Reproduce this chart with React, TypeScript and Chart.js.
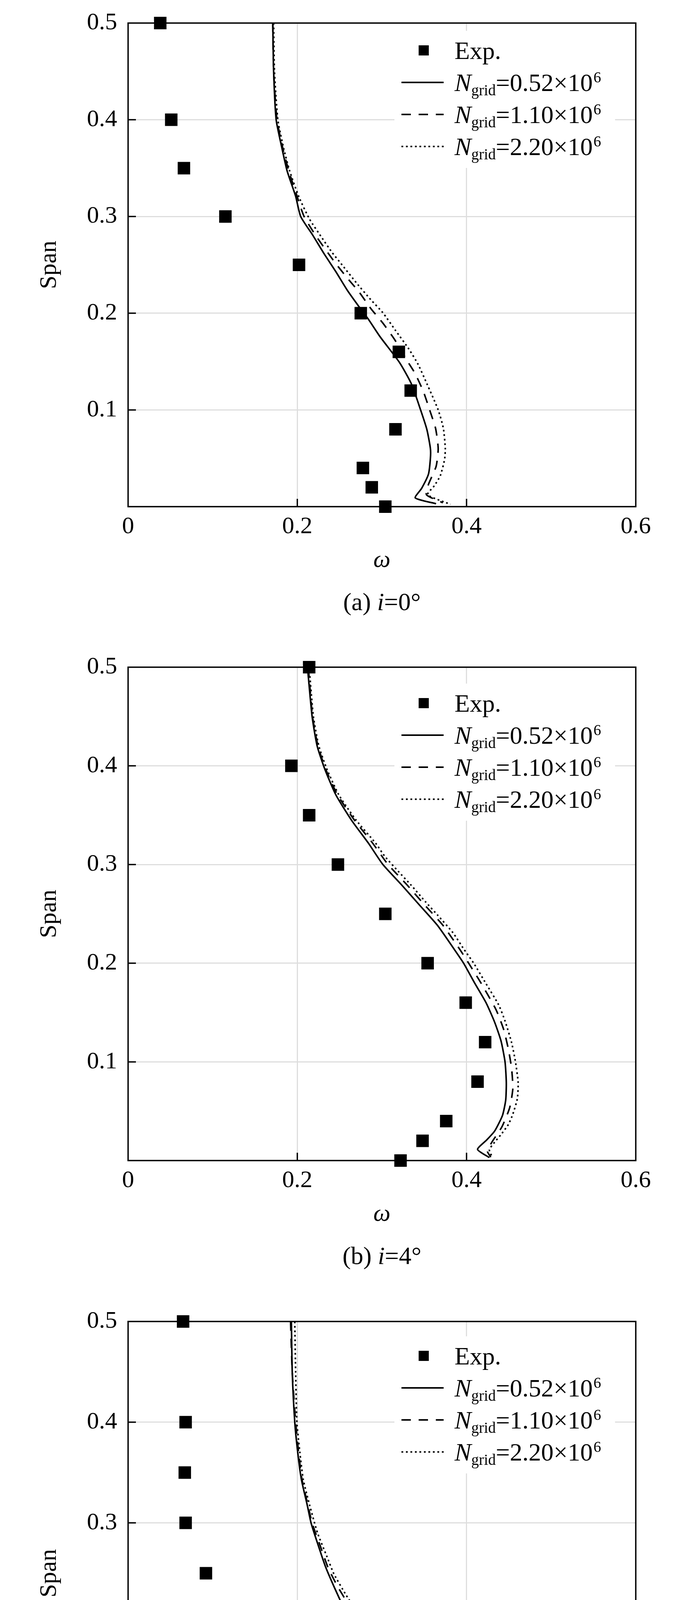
import { useEffect, useRef } from 'react'
import { Chart, registerables } from 'chart.js'

Chart.register(...registerables)

const SERIF = '"Liberation Serif", "Times New Roman", Times, serif'

// span positions of the measured points (same for all three incidences)
const expSpan = [0.5, 0.4, 0.35, 0.3, 0.25, 0.2, 0.16, 0.12, 0.08, 0.04, 0.02, 0]

const expOmegaA = [0.038, 0.051, 0.066, 0.115, 0.202, 0.275, 0.32, 0.334, 0.316, 0.2775, 0.288, 0.304]
const expOmegaB = [0.214, 0.193, 0.214, 0.248, 0.304, 0.354, 0.399, 0.422, 0.413, 0.376, 0.348, 0.322]
const expOmegaC = [0.065, 0.068, 0.067, 0.068, 0.092, 0.165, 0.234, 0.274, 0.292, 0.272, 0.302, 0.306]

// computed profiles, [omega, span]
const coarseA = [[0.171, 0.5], [0.172, 0.45], [0.175, 0.4], [0.182, 0.37], [0.188, 0.347], [0.198, 0.321], [0.204, 0.3], [0.218, 0.281], [0.2317, 0.2614], [0.2455, 0.243], [0.2594, 0.2233], [0.2746, 0.2047], [0.2838, 0.194], [0.2977, 0.1758], [0.3208, 0.149], [0.3348, 0.127], [0.3457, 0.1], [0.3532, 0.0795], [0.3573, 0.06], [0.3573, 0.05], [0.355, 0.0336], [0.347, 0.019], [0.3394, 0.009], [0.364, 0.003]]
const mediumA = [[0.171, 0.5], [0.172, 0.45], [0.176, 0.4], [0.183, 0.37], [0.19, 0.347], [0.2, 0.32], [0.208, 0.3], [0.222, 0.28], [0.2423, 0.255], [0.258, 0.2375], [0.2732, 0.2217], [0.287, 0.2047], [0.3009, 0.19], [0.3148, 0.173], [0.329, 0.152], [0.339, 0.138], [0.349, 0.119], [0.3564, 0.1], [0.3634, 0.081], [0.3665, 0.06], [0.364, 0.0415], [0.355, 0.023], [0.3526, 0.0123], [0.372, 0.004]]
const fineA = [[0.172, 0.5], [0.173, 0.45], [0.177, 0.4], [0.184, 0.37], [0.191, 0.347], [0.202, 0.32], [0.2146, 0.297], [0.2285, 0.2787], [0.241, 0.2629], [0.2534, 0.2494], [0.27, 0.2312], [0.287, 0.2138], [0.3009, 0.2007], [0.3162, 0.182], [0.3318, 0.163], [0.3425, 0.1475], [0.3532, 0.127], [0.3665, 0.1], [0.3726, 0.081], [0.3749, 0.06], [0.374, 0.0486], [0.369, 0.032], [0.362, 0.0217], [0.354, 0.0123], [0.381, 0.0024]]

const coarseB = [[0.212, 0.5], [0.2175, 0.45], [0.2235, 0.42], [0.2325, 0.3967], [0.2455, 0.3707], [0.264, 0.345], [0.284, 0.3217], [0.3009, 0.3003], [0.3226, 0.28], [0.3438, 0.2595], [0.3655, 0.2385], [0.3855, 0.214], [0.3965, 0.2], [0.4095, 0.18], [0.4232, 0.1597], [0.4333, 0.14], [0.4408, 0.121], [0.4455, 0.1], [0.447, 0.079], [0.4463, 0.0614], [0.4425, 0.0458], [0.4333, 0.03], [0.424, 0.021], [0.413, 0.0113], [0.427, 0.003]]
const mediumB = [[0.213, 0.5], [0.218, 0.45], [0.2245, 0.42], [0.2335, 0.3967], [0.2475, 0.3707], [0.2675, 0.345], [0.289, 0.3217], [0.307, 0.3003], [0.329, 0.28], [0.35, 0.2595], [0.372, 0.2385], [0.392, 0.214], [0.4025, 0.2], [0.417, 0.18], [0.4348, 0.153], [0.444, 0.1325], [0.4494, 0.113], [0.4532, 0.0936], [0.4547, 0.073], [0.451, 0.0536], [0.4417, 0.034], [0.43, 0.0187], [0.4247, 0.0093], [0.4287, 0.0035]]
const fineB = [[0.214, 0.5], [0.219, 0.45], [0.2255, 0.42], [0.235, 0.3967], [0.249, 0.3707], [0.2695, 0.345], [0.2925, 0.3217], [0.3032, 0.3085], [0.3194, 0.293], [0.3346, 0.279], [0.3517, 0.262], [0.3655, 0.249], [0.384, 0.2308], [0.397, 0.214], [0.4085, 0.2], [0.4225, 0.18], [0.438, 0.1577], [0.4455, 0.1414], [0.4532, 0.1197], [0.4578, 0.1002], [0.461, 0.079], [0.46, 0.0626], [0.4547, 0.047], [0.4494, 0.0365], [0.4408, 0.0264], [0.4333, 0.0187], [0.427, 0.011], [0.43, 0.004]]

const coarseC = [[0.193, 0.5], [0.194, 0.45], [0.197, 0.4], [0.2005, 0.37], [0.2048, 0.3432], [0.2117, 0.3178], [0.2163, 0.2998], [0.2239, 0.2798], [0.2331, 0.257], [0.244, 0.2355], [0.2565, 0.2127], [0.264, 0.1999], [0.2793, 0.1784], [0.2963, 0.153], [0.309, 0.1375], [0.3195, 0.118], [0.33, 0.0995], [0.338, 0.083], [0.3435, 0.065], [0.3455, 0.049], [0.3455, 0.03], [0.3435, 0.022], [0.341, 0.009], [0.3625, 0.006], [0.385, 0.0023]]
const mediumC = [[0.192, 0.5], [0.194, 0.45], [0.198, 0.4], [0.2015, 0.37], [0.2055, 0.3432], [0.2125, 0.3178], [0.2175, 0.2998], [0.226, 0.2798], [0.2363, 0.2557], [0.247, 0.2378], [0.2594, 0.2203], [0.2732, 0.1998], [0.287, 0.1846], [0.3009, 0.1644], [0.311, 0.15], [0.3263, 0.127], [0.337, 0.107], [0.346, 0.087], [0.353, 0.066], [0.356, 0.043], [0.351, 0.024], [0.3495, 0.011], [0.3625, 0.0053], [0.378, 0.0027]]
const fineC = [[0.197, 0.5], [0.198, 0.45], [0.1995, 0.4], [0.203, 0.37], [0.207, 0.3432], [0.2145, 0.3178], [0.2239, 0.29], [0.2348, 0.267], [0.2432, 0.2494], [0.2579, 0.228], [0.27, 0.2127], [0.2815, 0.1986], [0.2948, 0.1822], [0.3101, 0.163], [0.3157, 0.1558], [0.3272, 0.14], [0.34, 0.1184], [0.3494, 0.1005], [0.3563, 0.083], [0.3618, 0.0651], [0.3632, 0.0472], [0.3609, 0.0347], [0.3572, 0.022], [0.354, 0.0164], [0.3688, 0.005], [0.3854, 0.0023]]

const gridSizes = ['0.52', '1.10', '2.20']
const lineDashes = [[], [24, 20], [4.5, 7]]

const PLOT_TOP = 34
const AXIS_LEFT = 328
const PAD_RIGHT = 144
const BELOW = 182
const ROW_GAP = 82

// draws the box, inward ticks and the legend (with sub/superscripts)
const framePlugin = {
  id: 'frame',
  beforeDatasetsDraw(chart: any, _args: any, opts: any) {
    const { ctx, chartArea: ca } = chart
    const xs = chart.scales.x
    const ys = chart.scales.y
    const rowY = (i: number) => ca.top + opts.firstRow + i * ROW_GAP
    ctx.save()

    ctx.fillStyle = '#fff'
    ctx.fillRect(1010, rowY(0) - 50, 565, rowY(3) - rowY(0) + 105)

    ctx.strokeStyle = '#000'
    ctx.lineWidth = 3.5
    ctx.strokeRect(ca.left, ca.top, ca.right - ca.left, ca.bottom - ca.top)

    ctx.beginPath()
    xs.ticks.forEach((t: any) => {
      if (t.value <= xs.min || t.value >= xs.max) return
      const px = xs.getPixelForValue(t.value)
      ctx.moveTo(px, ca.bottom)
      ctx.lineTo(px, ca.bottom - 20)
    })
    ys.ticks.forEach((t: any) => {
      if (t.value <= ys.min || t.value >= ys.max) return
      const py = ys.getPixelForValue(t.value)
      ctx.moveTo(ca.left, py)
      ctx.lineTo(ca.left + 20, py)
    })
    ctx.stroke()

    ctx.fillStyle = '#000'
    ctx.textAlign = 'left'
    ctx.textBaseline = 'alphabetic'
    chart.data.datasets.forEach((d: any, i: number) => {
      const y = rowY(i)
      const base = y + 22
      let x = 1164
      if (i === 0) {
        ctx.fillRect(1085 - 13, y - 13, 26, 26)
        ctx.font = `64px ${SERIF}`
        ctx.fillText('Exp.', x, base)
        return
      }
      ctx.setLineDash(d.borderDash || [])
      ctx.lineWidth = d.borderWidth
      ctx.beginPath()
      ctx.moveTo(1028, y)
      ctx.lineTo(1136, y)
      ctx.stroke()
      ctx.setLineDash([])

      ctx.font = `italic 64px ${SERIF}`
      ctx.fillText('N', x, base)
      x += ctx.measureText('N').width
      ctx.font = `39px ${SERIF}`
      ctx.fillText('grid', x, base + 11)
      x += ctx.measureText('grid').width
      ctx.font = `64px ${SERIF}`
      const rest = `=${gridSizes[i - 1]}×10`
      ctx.fillText(rest, x, base)
      x += ctx.measureText(rest).width
      ctx.font = `39px ${SERIF}`
      ctx.fillText('6', x + 2, base - 22)
    })
    ctx.restore()
  },
}

type PanelProps = {
  top: number
  height: number
  exp: number[]
  lines: number[][][]
  tag: string
  angle: string
  firstRow: number
}

function Panel({ top, height, exp, lines, tag, angle, firstRow }: PanelProps) {
  const ref = useRef<HTMLCanvasElement>(null)
  const canvasH = PLOT_TOP + height + BELOW

  useEffect(() => {
    const tickFont = { family: SERIF, size: 62, lineHeight: 1 }
    const chart = new Chart(ref.current as HTMLCanvasElement, {
      type: 'scatter',
      data: {
        datasets: [
          {
            label: 'Exp.',
            data: exp.map((w, k) => ({ x: w, y: expSpan[k] })),
            showLine: false,
            pointStyle: 'rect',
            pointRadius: 22.6,
            backgroundColor: '#000',
            borderWidth: 0,
            clip: false,
          } as any,
          ...lines.map((pts, k) => ({
            label: `Ngrid=${gridSizes[k]}×10^6`,
            data: pts.map(([w, s]) => ({ x: w, y: s })),
            showLine: true,
            borderColor: '#000',
            borderWidth: 4,
            borderDash: lineDashes[k],
            pointRadius: 0,
            tension: 0.2,
            clip: false,
          })),
        ],
      },
      options: {
        responsive: false,
        animation: false,
        devicePixelRatio: 1,
        events: [],
        layout: { padding: { left: 0, top: PLOT_TOP, right: PAD_RIGHT, bottom: 0 } },
        plugins: {
          legend: { display: false },
          tooltip: { enabled: false },
          frame: { firstRow },
        } as any,
        scales: {
          x: {
            type: 'linear',
            min: 0,
            max: 0.6,
            ticks: {
              stepSize: 0.2,
              padding: 21,
              color: '#000',
              font: tickFont,
              callback: (v: any) => (Number(v) === 0 ? '0' : Number(v).toFixed(1)),
            },
            grid: { color: '#dedede', lineWidth: 3, drawTicks: false },
            border: { display: false },
            title: {
              display: true,
              text: 'ω',
              color: '#000',
              font: { family: SERIF, size: 62, style: 'italic' },
              padding: { top: 0, bottom: 7 },
            },
            afterFit: (s: any) => {
              s.height = BELOW
            },
          },
          y: {
            type: 'linear',
            min: 0,
            max: 0.5,
            ticks: {
              stepSize: 0.1,
              padding: 28,
              color: '#000',
              font: tickFont,
              callback: (v: any) => (Number(v) === 0 ? '' : Number(v).toFixed(1)),
            },
            grid: { color: '#dedede', lineWidth: 3, drawTicks: false },
            border: { display: false },
            title: {
              display: true,
              text: 'Span',
              color: '#000',
              font: { family: SERIF, size: 62 },
              padding: { top: 90, bottom: 0 },
            },
            afterFit: (s: any) => {
              s.width = AXIS_LEFT
            },
          },
        },
      },
      plugins: [framePlugin],
    })
    return () => chart.destroy()
  }, [])

  const captionCenter = top + PLOT_TOP + height + 244
  return (
    <>
      <canvas
        ref={ref}
        width={1772}
        height={canvasH}
        style={{ position: 'absolute', left: 0, top, width: 1772, height: canvasH }}
      />
      <div
        style={{
          position: 'absolute',
          left: 478,
          width: 1000,
          top: captionCenter - 32,
          textAlign: 'center',
          font: `64px/64px ${SERIF}`,
          color: '#000',
          whiteSpace: 'nowrap',
        }}
      >
        ({tag}) <i>i</i>={angle}°
      </div>
    </>
  )
}

export default function App() {
  return (
    <div style={{ position: 'absolute', left: 0, top: 0, width: 1772, height: 4953, background: '#fff', overflow: 'hidden' }}>
      <Panel top={0} height={1263} exp={expOmegaA} lines={[coarseA, mediumA, fineA]} tag="a" angle="0" firstRow={70} />
      <Panel top={1649} height={1288} exp={expOmegaB} lines={[coarseB, mediumB, fineB]} tag="b" angle="4" firstRow={92} />
      <Panel top={3324} height={1314} exp={expOmegaC} lines={[coarseC, mediumC, fineC]} tag="c" angle="−2" firstRow={88} />
    </div>
  )
}
